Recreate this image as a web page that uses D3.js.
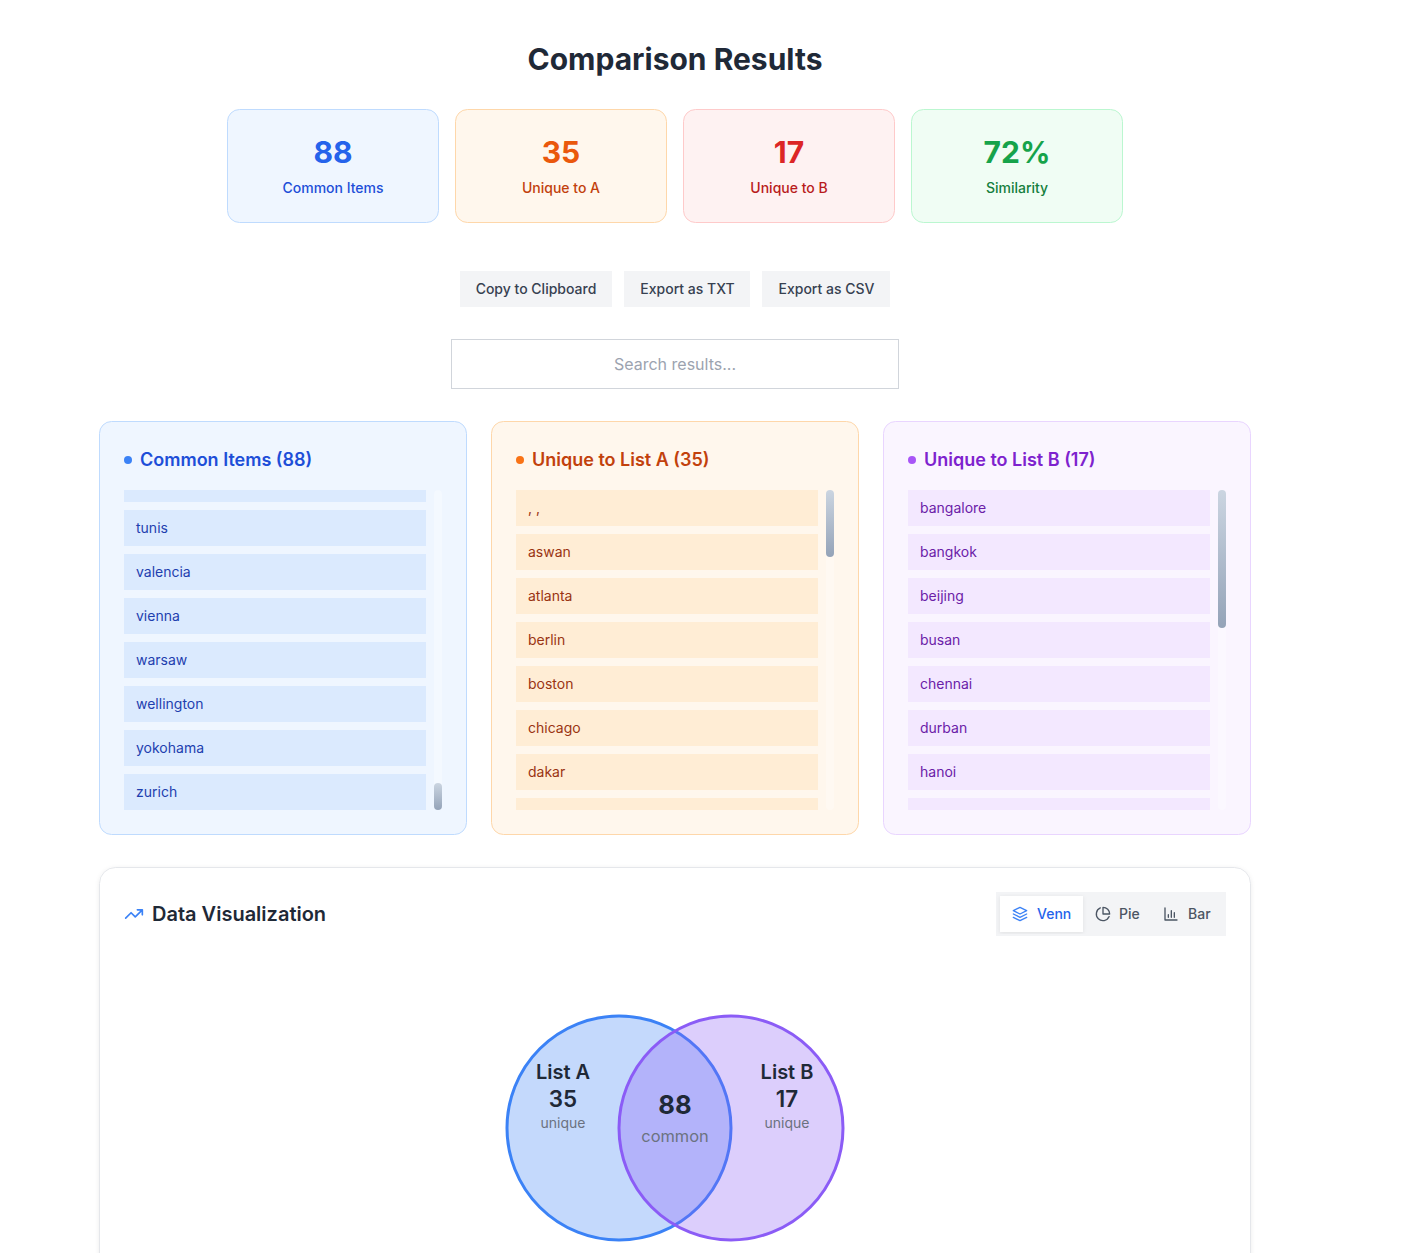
<!DOCTYPE html>
<html><head><meta charset="utf-8">
<script src="https://cdn.jsdelivr.net/npm/d3@7/dist/d3.min.js"></script>
<style>
html,body{margin:0;padding:0;background:#fff;overflow:hidden;height:1253px}
body{position:relative;font-family:Inter,sans-serif}
svg{display:block;position:absolute;left:0;top:0}
.t{position:absolute;white-space:pre;line-height:normal}
</style></head><body>
<svg id="c" width="1406" height="1253"></svg>
<div id="labels"></div>
<script>
// ---- data ----
const statValues = ["88", "35", "17", "72%"];
const statLabels = ["Common Items", "Unique to A", "Unique to B", "Similarity"];
const statFill = ["#eff6ff", "#fff7ed", "#fef2f2", "#f0fdf4"];
const statBorder = ["#bfdbfe", "#fed7aa", "#fecaca", "#bbf7d0"];
const statValueColor = ["#2563eb", "#ea580c", "#dc2626", "#16a34a"];
const statLabelColor = ["#1d4ed8", "#c2410c", "#b91c1c", "#15803d"];

const buttonLabels = ["Copy to Clipboard", "Export as TXT", "Export as CSV"];

const panelTitles = ["Common Items (88)", "Unique to List A (35)", "Unique to List B (17)"];
const panelFill = ["#eff6ff", "#fff7ed", "#faf5ff"];
const panelBorder = ["#bfdbfe", "#fed7aa", "#e9d5ff"];
const panelTitleColor = ["#1d4ed8", "#c2410c", "#7e22ce"];
const panelDot = ["#3b82f6", "#f97316", "#a855f7"];
const itemFill = ["#dbeafe", "#ffedd5", "#f3e8ff"];
const itemText = ["#1e40af", "#9a3412", "#6b21a8"];

const commonItems = ["", "tunis", "valencia", "vienna", "warsaw", "wellington", "yokohama", "zurich"];
const uniqueA = [", ,", "aswan", "atlanta", "berlin", "boston", "chicago", "dakar", ""];
const uniqueB = ["bangalore", "bangkok", "beijing", "busan", "chennai", "durban", "hanoi", ""];
const panelItems = [commonItems, uniqueA, uniqueB];

const vizTabs = ["Venn", "Pie", "Bar"];
const vennSets = ["List A", "List B"];
const vennUnique = [35, 17];
const vennCommon = 88;
const vennFill = ["rgba(59,130,246,0.3)", "rgba(139,92,246,0.3)"];
const vennStroke = ["#3b82f6", "#8b5cf6"];

// ---- drawing ----
const svg = d3.select("#c");
const labels = d3.select("#labels");
const defs = svg.append("defs");
const grad = defs.append("linearGradient").attr("id","thumb").attr("x1",0).attr("x2",0).attr("y1",0).attr("y2",1);
grad.append("stop").attr("offset",0).attr("stop-color","#cbd5e1");
grad.append("stop").attr("offset",1).attr("stop-color","#94a3b8");
const sh = defs.append("filter").attr("id","sh").attr("x","-5%").attr("y","-5%").attr("width","110%").attr("height","110%");
sh.append("feDropShadow").attr("dx",0).attr("dy",1).attr("stdDeviation",2).attr("flood-color","#000").attr("flood-opacity",0.08);

// real HTML text, placed by its baseline
function txt(_g,x,y,s,size,weight,fill,anchor){
  if(s==="" ) return;
  const el=labels.append("div").attr("class","t").text(s)
    .style("font-size",size+"px").style("font-weight",weight).style("color",fill)
    .style("top",(y-Math.round(0.96875*size))+"px").style("left",x+"px");
  if(anchor==="middle"){
    const w=el.node().getBoundingClientRect().width;
    el.style("left",(x-w/2)+"px");
  }
  return el;
}
function box(g,x,y,w,h,r,fill,stroke){
  return g.append("rect").attr("x",x+(stroke?.5:0)).attr("y",y+(stroke?.5:0))
    .attr("width",w-(stroke?1:0)).attr("height",h-(stroke?1:0)).attr("rx",r)
    .attr("fill",fill).attr("stroke",stroke||"none");
}

txt(svg,675,70,"Comparison Results",30,700,"#1f2937","middle");

// stat cards
const xStat = d3.scaleBand().domain(d3.range(4)).range([227,1123]).paddingInner(16/228);
statValues.forEach((v,i)=>{
  const x=xStat(i), w=212, g=svg.append("g");
  box(g,x,109,w,114,12,statFill[i],statBorder[i]);
  txt(g,x+w/2,163,v,30,700,statValueColor[i],"middle");
  txt(g,x+w/2,193,statLabels[i],14,500,statLabelColor[i],"middle");
});

// buttons
const btnX=[460,624,762], btnW=[152,126,128];
buttonLabels.forEach((b,i)=>{
  box(svg,btnX[i],271,btnW[i],36,0,"#f3f4f6");
  txt(svg,btnX[i]+btnW[i]/2+(i?0.5:0),294,b,14,500,"#374151","middle");
});

// search
box(svg,451,339,448,50,0,"#fff","#d1d5db");
txt(svg,675,370,"Search results...",16,400,"#9ca3af","middle");

// list panels
const xPanel = d3.scaleBand().domain(d3.range(3)).range([99,1251]).paddingInner(24/392);
const thumbs=[[783,810],[490,557],[490,628]];
panelTitles.forEach((t,i)=>{
  const x=xPanel(i), g=svg.append("g");
  box(g,x,421,368,414,12,panelFill[i],panelBorder[i]);
  g.append("circle").attr("cx",x+29).attr("cy",460).attr("r",4).attr("fill",panelDot[i]);
  txt(g,x+41,466,t,18,600,panelTitleColor[i]);
  const cid="clip"+i;
  defs.append("clipPath").attr("id",cid).append("rect").attr("x",x+25).attr("y",490).attr("width",302).attr("height",320);
  const list=g.append("g").attr("clip-path",`url(#${cid})`);
  const y0=490+(i===0?-24:0);
  const yRow=d3.scaleLinear().domain([0,1]).range([y0,y0+44]);
  list.selectAll("g").data(panelItems[i]).join("g").each(function(d,k){
    const r=d3.select(this), y=yRow(k);
    box(r,x+25,y,302,36,0,itemFill[i]);
    txt(r,x+37,y+23,d,14,400,itemText[i]);
  });
  box(g,x+335,490,8,320,4,"rgba(255,255,255,0.3)");
  box(g,x+335,thumbs[i][0],8,thumbs[i][1]-thumbs[i][0],4,"url(#thumb)");
});

// visualization card
const viz=svg.append("g");
box(viz,99,867,1152,500,16,"#fff","#e5e7eb").attr("filter","url(#sh)");
function icon(g,x,y,size,d,color,w){
  g.append("path").attr("d",d).attr("transform",`translate(${x},${y}) scale(${size/24})`)
    .attr("fill","none").attr("stroke",color).attr("stroke-width",w||2)
    .attr("stroke-linecap","round").attr("stroke-linejoin","round");
}
icon(viz,124,904,20,"M22 7 13.5 15.5 8.5 10.5 2 17M16 7h6v6","#3b82f6");
txt(viz,152,921,"Data Visualization",20,600,"#1f2937");
box(viz,996,892,230,44,0,"#f3f4f6");
box(viz,1000,896,83,36,0,"#fff").attr("filter","url(#sh)");
const tabX=[1037,1119,1188];
const tabColor=["#2563eb","#4b5563","#4b5563"];
const tabIcon=["M12 2 2 7l10 5 10-5-10-5zM2 17l10 5 10-5M2 12l10 5 10-5",
  "M21.21 15.89A10 10 0 1 1 8 2.83M22 12A10 10 0 0 0 12 2v10z",
  "M3 3v18h18M8 17v-4M12.5 17V7M17 17v-7"];
const tabIconX=[1012,1095,1163];
vizTabs.forEach((t,i)=>{
  icon(viz,tabIconX[i],906,16,tabIcon[i],i===0?"#3b82f6":"#4b5563");
  txt(viz,tabX[i],919,t,14,500,tabColor[i]);
});

// venn
const xVenn=d3.scalePoint().domain(vennSets).range([619,731]);
const r=112, cy=1128;
vennSets.forEach((s,i)=>{
  viz.append("circle").attr("cx",xVenn(s)).attr("cy",cy).attr("r",r)
    .attr("fill",vennFill[i]).attr("stroke",vennStroke[i]).attr("stroke-width",3);
});
const labelX=[563,787];
vennSets.forEach((s,i)=>{
  txt(viz,labelX[i],1079,s,20,600,"#1f2937","middle");
  txt(viz,labelX[i],1107,vennUnique[i],22.4,600,"#1f2937","middle");
  txt(viz,labelX[i],1128,"unique",14,400,"#6b7280","middle");
});
txt(viz,675,1114,vennCommon,25.6,700,"#1f2937","middle");
txt(viz,675,1142,"common",16.4,400,"#6b7280","middle");
</script>
</body></html>
